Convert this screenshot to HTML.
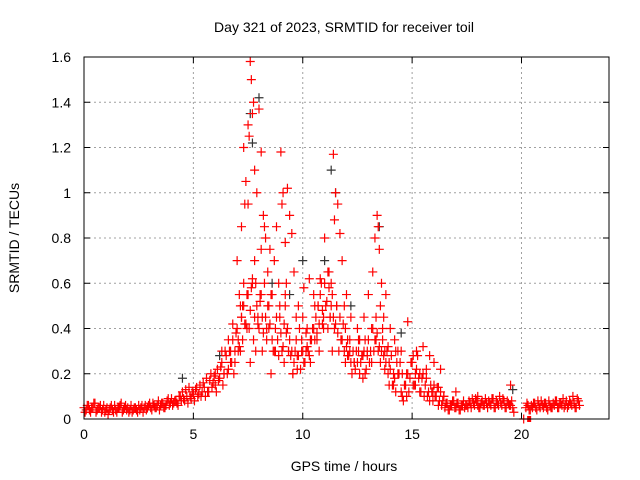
<!DOCTYPE html>
<html><head><meta charset="utf-8"><style>
html,body{margin:0;padding:0;background:#fff;}
svg{display:block;font-family:"Liberation Sans",sans-serif;}
</style></head><body>
<svg id="chart" width="640" height="480">
<text x="344" y="32" font-size="14" text-anchor="middle">Day 321 of 2023, SRMTID for receiver toil</text>
<text x="344" y="471" font-size="14" text-anchor="middle">GPS time / hours</text>
<text x="19" y="238" font-size="14" text-anchor="middle" transform="rotate(-90 19 238)">SRMTID / TECUs</text>
<g id="grid"></g><g id="ticks"></g><g id="marks"></g>
<rect x="84" y="57" width="525" height="362" fill="none" stroke="#000" stroke-width="1"/>
</svg>
<script>
const xTicks=[0,5,10,15,20];
const yTicks=[0,0.2,0.4,0.6,0.8,1,1.2,1.4,1.6];
const yTickLabels=["0","0.2","0.4","0.6","0.8","1","1.2","1.4","1.6"];
const baseStep=0.1;
const redBase=[.05,.04,.06,.03,.05,.07,.04,.05,.03,.06,.04,.02,.05,.04,.06,.03,.05,.07,.04,.06,.05,.04,.03,.05,.04,.06,.05,.03,.06,.05,.07,.04,.06,.05,.08,.06,.07,.05,.08,.06,.09,.07,.08,.06,.1,
.12,.08,.1,.14,.09,.11,.13,.1,.15,.12,
.14,.18,.12,.2,.16,.15,.22,.18,.25,.2,
.28,.22,.3,.35,.25,.4,.32,.45,.5,.42,
.55,.48,.6,.45,.5,.4,.55,.38,.45,.5,
.42,.35,.3,.45,.28,.38,.32,.5,.4,.35,
.3,.25,.35,.28,.22,.3,.25,.32,.28,.35,
.4,.45,.5,.55,.48,.6,.52,.58,.5,.45,
.42,.38,.45,.35,.3,.32,.28,.25,.3,.22,
.25,.2,.28,.3,.22,.35,.3,.4,.35,.38,
.32,.3,.28,.25,.2,.22,.15,.18,.25,.2,
.12,.08,.15,.2,.18,.25,.15,.22,.18,.12,
.2,.15,.1,.08,.12,.15,.1,.06,.12,.08,
.05,.07,.04,.06,.08,.05,.07,.04,.06,.05,
.06,.08,.05,.07,.09,.06,.05,.08,.06,.07,
.08,.06,.09,.05,.07,.1,.06,.08,.05,.07,
.06,.05,null,null,null,null,0,.05,.06,.04,
.05,.07,.04,.06,.08,.05,.07,.04,.06,.05,
.06,.08,.05,.07,.09,.06,.05,.08,.06,.07,.05,.08];
const redBase2=[.03,.06,.04,.05,.07,.03,.05,.06,.04,.03,.05,.04,.06,.03,.04,.05,.06,.03,.05,.04,.03,.06,.04,.05,.03,.04,.06,.05,.04,.06,.05,.07,.05,.06,.04,.07,.05,.06,.09,.07,.06,.08,.07,.1,.08,
.09,.13,.07,.1,.12,.08,.14,.11,.1,.16,
.1,.12,.17,.14,.19,.12,.17,.23,.15,.3,
.2,.3,.25,.2,.38,.3,.5,.35,.42,.55,
.4,.58,.35,.6,.42,.52,.45,.6,.35,.4,
.55,.3,.4,.35,.5,.3,.42,.38,.3,.28,
.2,.3,.22,.4,.3,.25,.38,.3,.35,.4,
.5,.35,.42,.6,.4,.5,.65,.45,.55,.4,
.5,.3,.35,.42,.25,.28,.35,.2,.25,.3,
.3,.25,.18,.35,.28,.25,.4,.3,.45,.3,
.25,.35,.22,.3,.15,.28,.2,.12,.2,.25,
.1,.15,.2,.12,.25,.15,.2,.28,.12,.18,
.1,.22,.12,.15,.08,.1,.14,.08,.06,.1,
.07,.04,.06,.08,.05,.07,.04,.06,.08,.06,
.05,.07,.09,.06,.08,.05,.07,.06,.09,.05,
.07,.09,.05,.08,.06,.07,.09,.05,.08,.06,
.08,.03,null,null,null,null,null,.07,.04,.06,
.07,.05,.08,.05,.06,.07,.05,.08,.05,.07,
.08,.05,.07,.06,.05,.08,.06,.07,.1,.05,.09,.06];
const spikeT=[7.0,7.2,7.3,7.4,7.5,7.6,7.65,7.7,7.8,7.9,8.0,8.1,8.2,8.3,8.1,7.5,7.3,7.2,7.8,8.4,8.6,8.8,9.0,9.1,9.2,9.3,9.4,9.5,9.6,8.9,9.2,9.8,10.0,10.2,10.5,10.8,11.0,11.2,11.4,11.5,11.6,11.7,11.3,11.8,12.0,12.2,11.9,12.5,12.8,13.0,13.2,13.3,13.4,13.5,13.6,13.8,13.7,14.0,14.2,14.8,15.2,15.5,16.0,6.0,6.3,6.6,6.8,7.1,7.7,8.5,9.7,10.3,10.9,12.6,13.9,14.5,15.8,16.3,17,18,19.5,7.55,7.75,8.25,9.05,11.45,13.45,7.35,8.7,10.7];
const spikeV=[.7,.85,1.2,1.05,1.3,1.58,1.5,1.35,1.1,1.0,1.37,1.18,.9,.8,.75,.95,.6,.45,.7,.65,.55,.85,1.18,1.0,.78,1.02,.9,.82,.65,.6,.55,.5,.45,.4,.55,.62,.8,.65,1.17,1.0,.95,.82,.6,.7,.55,.45,.5,.4,.45,.55,.65,.8,.9,.75,.6,.55,.45,.4,.35,.43,.3,.32,.25,.2,.3,.35,.42,.55,.62,.75,.45,.62,.42,.35,.32,.3,.28,.22,.12,.1,.15,1.25,1.4,.85,.95,.88,.85,.95,.7,.5];
const extraT=[6.4,6.7,6.9,7.05,7.25,7.45,7.6,7.85,8.05,8.15,8.35,8.55,8.75,8.95,9.15,9.35,9.55,9.75,9.95,10.15,10.35,10.55,10.75,10.95,11.15,11.35,11.55,11.75,11.95,12.15,12.35,12.55,12.75,12.95,13.15,13.35,13.55,13.75,13.95,14.15,14.35,14.55,14.75,14.95,15.15,15.35,15.65,15.95,16.2,16.45,7.15,7.95,8.45,9.25,10.05,10.65,11.25,12.05,12.85,13.65,14.25,15.05];
const extraV=[.2,.25,.3,.35,.5,.4,.25,.3,.55,.3,.4,.2,.3,.45,.25,.3,.2,.28,.35,.3,.25,.35,.3,.45,.4,.3,.5,.35,.4,.3,.25,.35,.28,.3,.25,.35,.5,.3,.25,.15,.3,.2,.1,.25,.15,.2,.18,.12,.14,.1,.3,.45,.5,.6,.58,.38,.45,.35,.2,.4,.3,.28];
const blackT=[7.6,8.0,7.7,11.3,11.5,13.5,8.6,10.0,12.2,14.5,19.6,4.5,6.2,9.4,11.0];
const blackV=[1.35,1.42,1.22,1.1,1.0,.85,.6,.7,.5,.38,.13,.18,.28,.55,.7];

const X0=84,X1=609,Y0=419,Y1=57,XMAX=24,YMAX=1.6;
const xs=t=>X0+(X1-X0)*t/XMAX;
const ys=v=>Y0-(Y0-Y1)*v/YMAX;
const NS="http://www.w3.org/2000/svg";
const grid=document.getElementById('grid'),ticks=document.getElementById('ticks'),marks=document.getElementById('marks');
function mk(tag,attrs,parent){const e=document.createElementNS(NS,tag);for(const k in attrs)e.setAttribute(k,attrs[k]);parent.appendChild(e);return e;}
xTicks.forEach(t=>{
  const x=xs(t);
  if(t>0){const g=mk('line',{x1:x,x2:x,y1:Y1,y2:Y0,stroke:'#a0a0a0','stroke-dasharray':'2,3'},grid);
  
  }
  mk('line',{x1:x,x2:x,y1:Y0,y2:Y0-6,stroke:'#000'},ticks);
  mk('line',{x1:x,x2:x,y1:Y1,y2:Y1+6,stroke:'#000'},ticks);
  const l=mk('text',{x:x,y:Y0+20,'font-size':14,'text-anchor':'middle'},ticks);l.textContent=t;
  
  
});
yTicks.forEach((v,i)=>{
  const y=ys(v);
  if(v>0&&v<YMAX){const g=mk('line',{x1:X0,x2:X1,y1:y,y2:y,stroke:'#a0a0a0','stroke-dasharray':'2,3'},grid);
  
  }
  mk('line',{x1:X0,x2:X0+6,y1:y,y2:y,stroke:'#000'},ticks);
  mk('line',{x1:X1,x2:X1-6,y1:y,y2:y,stroke:'#000'},ticks);
  const l=mk('text',{x:X0-13,y:y+5,'font-size':14,'text-anchor':'end'},ticks);l.textContent=yTickLabels[i];
  
  
});
function plus(t,v,color,name){
  if(v===null)return;
  const x=xs(t),y=ys(v);
  const p=mk('path',{d:`M${x-4.5},${y}H${x+4.5}M${x},${y-4.5}V${y+4.5}`,stroke:color,'stroke-width':1.2,fill:'none'},marks);
  
  
}
blackT.forEach((t,i)=>plus(t,blackV[i],'#333','black-point'));
redBase.forEach((v,i)=>plus(i*baseStep,v,'#f00','red-point'));
redBase2.forEach((v,i)=>plus(i*baseStep+0.05,v,'#f00','red-point'));
spikeT.forEach((t,i)=>plus(t,spikeV[i],'#f00','red-point'));
extraT.forEach((t,i)=>plus(t,extraV[i],'#f00','red-point'));
const gap=mk('rect',{x:xs(20.35)-2,y:ys(0)-3,width:4,height:6,fill:'#f00'},marks);


</script>
</body></html>
